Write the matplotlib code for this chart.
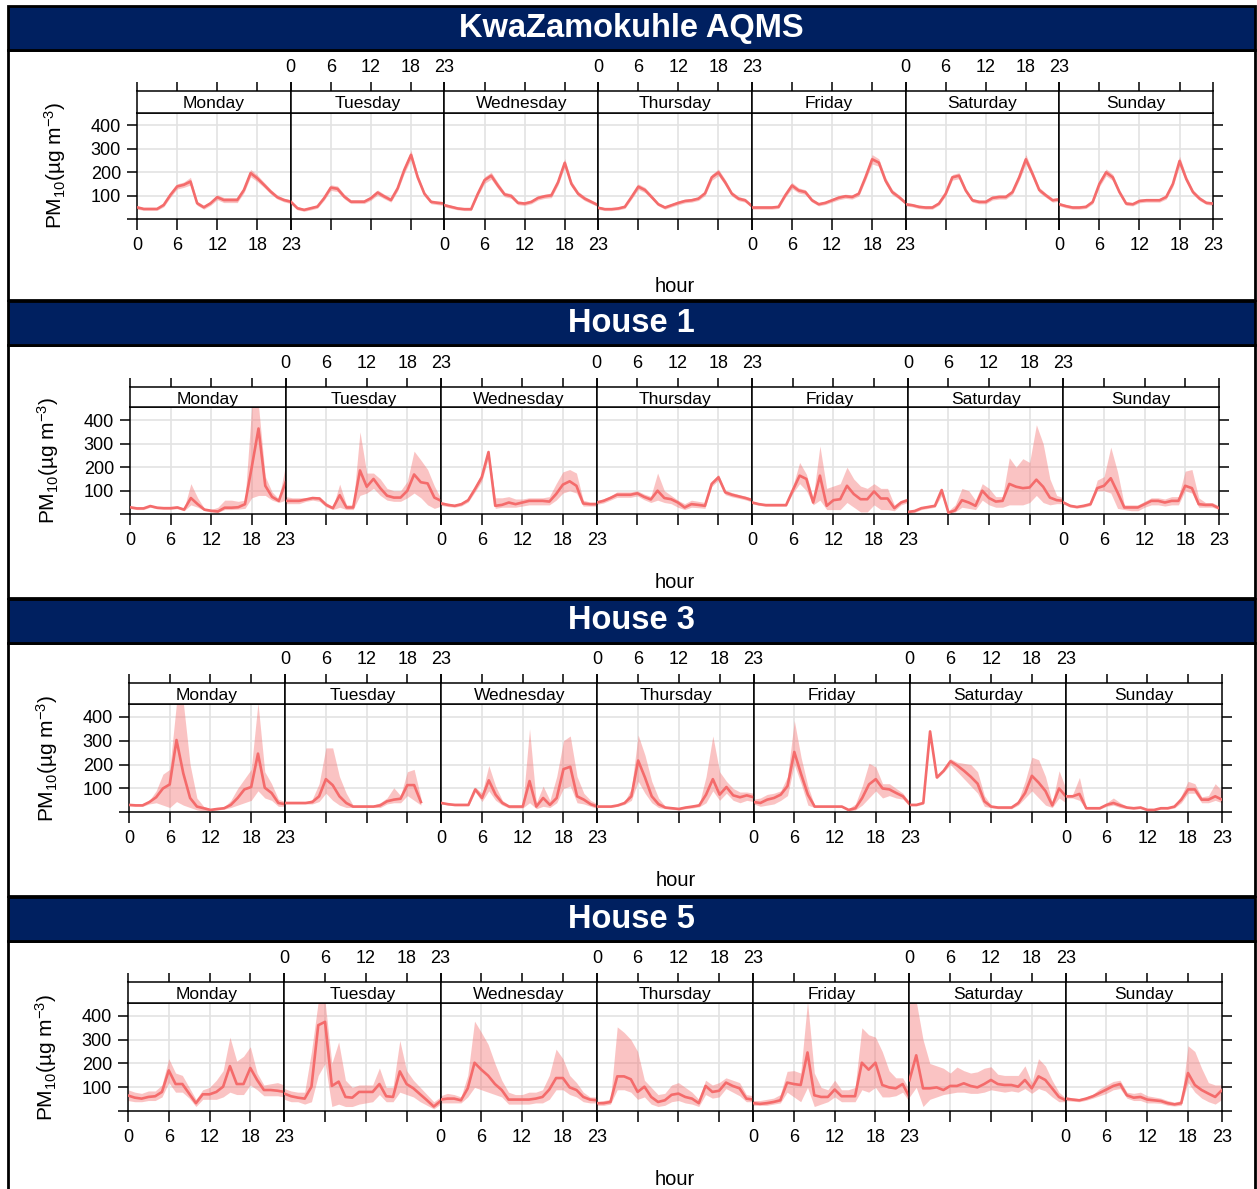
import numpy as np
import matplotlib.pyplot as plt
from matplotlib.patches import Rectangle

plt.rcParams['font.family'] = ['Liberation Sans', 'DejaVu Sans']
plt.rcParams['mathtext.fontset'] = 'custom'
plt.rcParams['mathtext.rm'] = 'Liberation Sans'
plt.rcParams['mathtext.default'] = 'regular'

nan = np.nan
days = ['Monday', 'Tuesday', 'Wednesday', 'Thursday', 'Friday', 'Saturday', 'Sunday']
hours = list(range(24))
titles = ['KwaZamokuhle AQMS', 'House 1', 'House 3', 'House 5']
xtick_vals = [0, 6, 12, 18, 23]
ytick_vals = [0, 100, 200, 300, 400]
ytick_labels = ['', '100', '200', '300', '400']

# hourly means and ribbon bounds, Monday..Sunday (24 values per day)
kz_mean = [
    50, 43, 43, 43, 60, 103, 139, 146, 160, 67, 50, 67, 93, 81, 81, 81, 124, 196, 174, 146, 117, 93, 81, 74,
    74, 46, 39, 46, 53, 89, 134, 129, 96, 74, 74, 74, 89, 113, 96, 81, 131, 210, 274, 178, 108, 73, 69, 66,
    59, 52, 45, 42, 42, 108, 166, 185, 143, 105, 98, 69, 66, 73, 90, 97, 101, 157, 240, 150, 108, 87, 73, 59,
    48, 42, 42, 45, 52, 94, 138, 124, 94, 63, 49, 59, 69, 77, 80, 87, 110, 178, 199, 157, 108, 87, 80, 55,
    49, 49, 49, 49, 52, 101, 143, 122, 115, 80, 63, 69, 80, 91, 97, 94, 108, 178, 255, 241, 164, 115, 94, 69,
    63, 59, 52, 49, 49, 66, 108, 178, 185, 122, 80, 73, 73, 90, 94, 94, 115, 178, 255, 192, 124, 101, 80, 84,
    63, 55, 49, 49, 52, 73, 150, 199, 178, 115, 66, 63, 77, 80, 80, 80, 94, 150, 248, 171, 115, 87, 69, 66,
]
kz_lo = [
    42, 37, 37, 37, 52, 93, 128, 135, 145, 58, 42, 58, 82, 70, 70, 70, 112, 180, 160, 135, 107, 85, 73, 66,
    66, 39, 33, 39, 46, 80, 122, 117, 86, 66, 66, 66, 80, 102, 86, 72, 120, 195, 255, 165, 98, 65, 61, 58,
    52, 45, 39, 36, 36, 98, 152, 170, 130, 95, 88, 61, 58, 65, 81, 88, 91, 145, 222, 138, 98, 78, 65, 52,
    41, 36, 36, 39, 45, 85, 126, 113, 85, 56, 42, 52, 61, 69, 72, 79, 100, 165, 185, 145, 98, 78, 72, 48,
    42, 42, 42, 42, 45, 92, 130, 111, 105, 72, 56, 62, 72, 82, 88, 85, 98, 165, 235, 225, 150, 104, 85, 62,
    56, 52, 45, 42, 42, 59, 98, 166, 172, 112, 72, 65, 65, 81, 85, 85, 105, 165, 235, 178, 113, 92, 72, 76,
    56, 48, 42, 42, 45, 65, 138, 184, 165, 105, 58, 56, 69, 72, 72, 72, 85, 138, 228, 158, 105, 78, 62, 58,
]
kz_hi = [
    56, 49, 49, 49, 68, 113, 150, 158, 178, 76, 58, 76, 103, 92, 92, 92, 136, 212, 188, 157, 127, 101, 89, 82,
    82, 53, 45, 53, 60, 98, 146, 141, 106, 82, 82, 82, 98, 124, 106, 90, 142, 225, 293, 191, 118, 81, 77, 74,
    66, 59, 51, 48, 48, 118, 180, 200, 156, 115, 108, 77, 74, 81, 99, 106, 111, 169, 258, 162, 118, 96, 81, 66,
    55, 48, 48, 51, 59, 103, 150, 135, 103, 70, 56, 66, 77, 85, 88, 95, 120, 191, 213, 169, 118, 96, 88, 62,
    56, 56, 56, 56, 59, 110, 156, 133, 125, 88, 70, 76, 88, 100, 106, 103, 118, 191, 275, 257, 178, 126, 103, 76,
    70, 66, 59, 56, 56, 73, 118, 190, 198, 132, 88, 81, 81, 99, 103, 103, 125, 191, 275, 206, 135, 110, 88, 92,
    70, 62, 56, 56, 59, 81, 162, 214, 191, 125, 74, 70, 85, 88, 88, 88, 103, 162, 268, 184, 125, 96, 76, 74,
]

h1_mean = [
    30, 25, 25, 35, 28, 26, 26, 29, 20, 69, 43, 20, 15, 12, 28, 28, 30, 43, 200, 364, 121, 74, 57, 136,
    57, 57, 57, 63, 69, 67, 40, 26, 81, 29, 29, 186, 117, 150, 111, 79, 71, 71, 100, 169, 136, 131, 71, 57,
    46, 40, 36, 43, 60, 107, 157, 264, 36, 40, 50, 43, 50, 57, 57, 57, 54, 86, 126, 140, 121, 46, 43, 43,
    50, 57, 69, 83, 83, 83, 89, 74, 63, 100, 69, 64, 50, 29, 43, 40, 36, 129, 157, 93, 83, 76, 69, 60,
    50, 43, 39, 39, 39, 39, 103, 164, 150, 50, 164, 36, 60, 64, 121, 86, 64, 64, 97, 67, 67, 26, 50, 60,
    10, 14, 26, 31, 36, 103, 7, 17, 60, 50, 36, 100, 69, 54, 57, 129, 117, 111, 114, 147, 117, 71, 60, 57,
    50, 36, 31, 36, 43, 111, 121, 153, 93, 29, 29, 29, 43, 57, 57, 50, 57, 57, 121, 111, 43, 40, 40, 26,
]
h1_lo = [
    25, 20, 20, 30, 23, 21, 21, 24, 15, 40, 30, 15, 10, 8, 20, 20, 22, 25, 70, 80, 80, 60, 50, 60,
    45, 45, 45, 55, 60, 55, 32, 20, 30, 20, 20, 80, 90, 110, 80, 60, 55, 55, 70, 90, 70, 40, 25, 35,
    38, 33, 30, 36, 52, 95, 140, 240, 25, 30, 30, 30, 35, 40, 40, 40, 40, 60, 90, 100, 90, 35, 35, 35,
    42, 48, 60, 72, 72, 72, 78, 62, 50, 60, 50, 45, 30, 20, 30, 28, 25, 118, 145, 83, 74, 68, 61, 52,
    44, 38, 34, 34, 34, 34, 90, 130, 100, 40, 60, 20, 20, 20, 50, 30, 10, 10, 40, 20, 20, 15, 40, 50,
    5, 8, 20, 25, 30, 80, 2, 10, 30, 25, 20, 60, 40, 30, 30, 40, 40, 40, 50, 80, 50, 40, 45, 45,
    43, 30, 26, 30, 37, 100, 100, 90, 25, 20, 15, 15, 30, 40, 40, 35, 40, 40, 100, 90, 30, 30, 30, 20,
]
h1_hi = [
    35, 30, 30, 40, 33, 31, 31, 36, 25, 130, 70, 25, 20, 30, 60, 60, 55, 60, 460, 460, 160, 95, 65, 210,
    75, 70, 70, 70, 75, 75, 50, 32, 128, 40, 40, 350, 175, 175, 150, 110, 100, 100, 140, 268, 230, 190, 120, 65,
    54, 47, 42, 50, 68, 119, 175, 275, 70, 70, 75, 65, 65, 70, 70, 70, 75, 130, 180, 190, 175, 60, 52, 52,
    58, 66, 78, 95, 95, 95, 100, 86, 76, 175, 100, 80, 60, 45, 60, 55, 50, 140, 169, 103, 92, 84, 77, 68,
    56, 48, 44, 44, 44, 44, 120, 220, 170, 70, 290, 110, 120, 130, 200, 150, 120, 110, 130, 110, 110, 40, 60, 70,
    15, 20, 32, 37, 42, 110, 15, 40, 110, 100, 60, 130, 110, 75, 75, 240, 200, 236, 220, 380, 300, 150, 80, 70,
    57, 42, 36, 42, 50, 145, 160, 285, 180, 40, 40, 40, 55, 70, 70, 65, 75, 75, 183, 190, 70, 50, 50, 35,
]

h3_mean = [
    31, 29, 29, 43, 63, 100, 117, 303, 163, 60, 24, 17, 10, 14, 17, 31, 60, 96, 106, 246, 103, 81, 39, 34,
    39, 39, 39, 39, 43, 67, 139, 114, 67, 39, 24, 24, 24, 24, 29, 46, 53, 57, 114, 114, 43, nan, nan, nan,
    39, 34, 31, 31, 31, 96, 60, 134, 74, 39, 24, 24, 24, 131, 24, 60, 31, 60, 181, 191, 67, 53, 34, 24,
    24, 24, 24, 29, 39, 67, 217, 146, 67, 34, 20, 17, 14, 20, 24, 29, 74, 139, 74, 106, 71, 63, 71, 63,
    43, 39, 53, 60, 74, 110, 253, 160, 74, 24, 24, 24, 24, 24, 10, 17, 60, 117, 139, 100, 96, 81, 67, 34,
    31, 31, 39, 339, 146, 174, 214, 196, 174, 149, 120, 46, 24, 20, 20, 20, 39, 81, 153, 124, 89, 29, 100, 67,
    67, 67, 77, 17, 17, 17, 31, 39, 29, 20, 17, 20, 10, 10, 17, 17, 24, 53, 96, 96, 53, 53, 67, 53,
]
h3_lo = [
    27, 25, 25, 35, 40, 30, 20, 45, 30, 20, 10, 5, 6, 10, 13, 20, 30, 40, 50, 90, 60, 50, 25, 25,
    35, 35, 35, 35, 35, 45, 80, 50, 30, 20, 20, 20, 20, 20, 20, 35, 40, 40, 70, 50, 30, nan, nan, nan,
    35, 30, 27, 27, 27, 85, 45, 90, 50, 30, 18, 18, 18, 40, 15, 25, 20, 40, 100, 110, 40, 35, 25, 15,
    20, 20, 20, 25, 33, 50, 130, 80, 40, 20, 15, 12, 10, 15, 18, 23, 40, 90, 50, 80, 50, 40, 50, 45,
    35, 25, 30, 35, 50, 70, 200, 120, 30, 20, 20, 20, 20, 20, 5, 10, 30, 60, 90, 60, 70, 60, 55, 25,
    27, 27, 34, 330, 140, 168, 200, 170, 140, 110, 80, 25, 19, 15, 15, 15, 30, 60, 90, 60, 30, 20, 60, 40,
    60, 60, 50, 13, 13, 13, 25, 30, 20, 15, 13, 15, 7, 7, 13, 13, 18, 40, 80, 80, 40, 40, 50, 40,
]
h3_hi = [
    36, 34, 34, 50, 90, 160, 180, 460, 460, 200, 60, 25, 15, 18, 22, 50, 100, 140, 180, 460, 170, 120, 55, 45,
    43, 43, 43, 43, 55, 120, 270, 270, 150, 80, 30, 30, 30, 30, 40, 60, 103, 70, 170, 180, 60, nan, nan, nan,
    43, 38, 35, 35, 35, 105, 80, 196, 110, 50, 30, 30, 30, 350, 40, 110, 50, 150, 300, 320, 150, 80, 50, 35,
    28, 28, 28, 33, 45, 100, 324, 240, 130, 60, 25, 22, 18, 25, 30, 35, 150, 320, 170, 130, 100, 85, 85, 80,
    55, 60, 75, 80, 90, 150, 385, 230, 110, 28, 28, 28, 28, 28, 15, 35, 110, 206, 190, 120, 120, 100, 80, 40,
    35, 35, 44, 345, 152, 180, 225, 210, 205, 200, 170, 70, 29, 25, 25, 25, 50, 130, 231, 220, 150, 40, 174, 100,
    75, 75, 146, 21, 21, 21, 40, 60, 40, 25, 21, 25, 14, 14, 21, 21, 30, 70, 130, 120, 65, 70, 120, 90,
]

h5_mean = [
    66, 57, 53, 60, 63, 81, 171, 114, 114, 74, 34, 71, 71, 81, 103, 189, 114, 114, 181, 131, 89, 89, 86, 81,
    74, 63, 57, 53, 103, 360, 374, 106, 124, 60, 57, 81, 81, 81, 114, 63, 60, 167, 114, 96, 71, 46, 20, 43,
    49, 53, 53, 46, 96, 203, 174, 149, 114, 89, 49, 49, 49, 49, 53, 60, 91, 139, 139, 100, 89, 60, 49, 46,
    34, 34, 39, 146, 146, 134, 81, 103, 60, 39, 46, 69, 74, 60, 53, 34, 106, 81, 86, 120, 106, 96, 53, 49,
    34, 31, 34, 39, 46, 120, 114, 110, 246, 67, 60, 60, 91, 63, 63, 63, 203, 174, 203, 110, 100, 96, 114, 60,
    130, 234, 96, 96, 100, 89, 106, 106, 117, 106, 100, 114, 131, 114, 110, 110, 103, 131, 96, 146, 131, 96, 60, 46,
    53, 49, 46, 53, 63, 77, 91, 106, 114, 67, 57, 60, 49, 46, 43, 34, 29, 34, 160, 110, 89, 74, 60, 89,
]
h5_lo = [
    45, 40, 40, 45, 45, 60, 120, 80, 80, 55, 20, 50, 50, 50, 60, 80, 70, 70, 110, 90, 65, 65, 65, 60,
    50, 40, 40, 30, 40, 150, 200, 20, 30, 20, 20, 30, 35, 40, 70, 40, 40, 80, 70, 60, 40, 25, 10, 30,
    35, 35, 35, 35, 60, 100, 90, 80, 70, 60, 30, 30, 30, 30, 35, 35, 50, 90, 90, 70, 60, 40, 35, 35,
    25, 25, 30, 90, 90, 80, 50, 60, 30, 20, 25, 40, 45, 35, 30, 20, 70, 55, 60, 95, 80, 65, 40, 40,
    25, 25, 25, 30, 35, 80, 60, 40, 100, 20, 30, 40, 60, 40, 40, 40, 90, 80, 100, 60, 60, 65, 80, 40,
    60, 100, 20, 50, 60, 70, 75, 80, 80, 75, 75, 80, 90, 85, 80, 85, 80, 95, 75, 95, 85, 60, 40, 40,
    45, 42, 40, 46, 55, 65, 75, 90, 95, 55, 45, 45, 35, 35, 33, 25, 22, 25, 120, 80, 55, 40, 30, 50,
]
h5_hi = [
    90, 80, 75, 85, 85, 110, 220, 160, 150, 100, 50, 90, 100, 130, 170, 310, 210, 230, 270, 160, 110, 115, 120, 110,
    95, 85, 80, 80, 250, 460, 460, 200, 290, 130, 100, 110, 110, 110, 181, 100, 100, 296, 170, 130, 100, 70, 40, 60,
    65, 75, 70, 60, 150, 377, 330, 280, 200, 130, 80, 70, 70, 80, 80, 90, 150, 260, 220, 150, 120, 80, 60, 60,
    40, 45, 50, 353, 330, 300, 250, 130, 100, 70, 75, 110, 120, 100, 80, 50, 130, 110, 120, 140, 130, 120, 70, 65,
    45, 45, 50, 55, 70, 167, 170, 160, 460, 160, 100, 90, 130, 90, 90, 100, 349, 320, 310, 250, 170, 140, 140, 90,
    460, 460, 300, 200, 190, 180, 160, 185, 170, 160, 165, 180, 186, 155, 150, 150, 150, 190, 120, 220, 190, 130, 80, 55,
    61, 56, 53, 60, 71, 95, 110, 125, 130, 80, 75, 80, 65, 60, 55, 45, 38, 45, 274, 250, 180, 120, 110, 110,
]

sites = [(kz_mean, kz_lo, kz_hi), (h1_mean, h1_lo, h1_hi),
         (h3_mean, h3_lo, h3_hi), (h5_mean, h5_lo, h5_hi)]

W, H = 1257, 1189
navy = '#002060'
col = '#f46b6b'

# pixel layout per section: header top, header bottom, body bottom,
# plot left, plot right, strip top, strip bottom, plot bottom
layout = [
    (6, 50, 300, 137, 1213, 90.7, 112.7, 219),
    (301, 345, 598, 130, 1219, 386.7, 407.3, 514.3),
    (599, 643, 896, 129, 1222, 682.7, 704, 812.3),
    (897, 941, 1192, 128, 1222, 981.7, 1002.7, 1111.3),
]

fig = plt.figure(figsize=(W / 100, H / 100), dpi=100)


def frect(x0, y0, x1, y1, **kw):
    r = Rectangle((x0 / W, 1 - y1 / H), (x1 - x0) / W, (y1 - y0) / H,
                  transform=fig.transFigure, **kw)
    fig.add_artist(r)


for s, (ht, hb, bb, xl, xr, st, sb, pb) in enumerate(layout):
    frect(8, hb, 1255, bb, facecolor='white', edgecolor='black', lw=2, zorder=-5)
    frect(8, ht, 1255, hb, facecolor=navy, edgecolor='black', lw=2, zorder=-4)
    fig.text((8 + 1255) / 2 / W, 1 - (ht + hb) / 2 / H, titles[s], color='white',
             fontsize=23.5, fontweight='bold', ha='center', va='center')

    mean, lo, hi = sites[s]
    dw = (xr - xl) / 7
    for d in range(7):
        x0 = xl + d * dw
        ax = fig.add_axes([x0 / W, 1 - pb / H, dw / W, (pb - sb) / H])
        sax = fig.add_axes([x0 / W, 1 - sb / H, dw / W, (sb - st) / H])

        m = mean[d * 24:(d + 1) * 24]
        l = lo[d * 24:(d + 1) * 24]
        u = hi[d * 24:(d + 1) * 24]
        ax.fill_between(hours, l, u, color=col, alpha=0.4, lw=0, zorder=2)
        ax.plot(hours, m, color=col, lw=1.9, zorder=3)

        ax.set_xlim(0, 23)
        ax.set_ylim(0, 454)
        ax.set_xticks(xtick_vals)
        ax.set_yticks(ytick_vals)
        for v in [6, 12, 18]:
            ax.axvline(v, color='#e3e3e3', lw=1.2, zorder=1)
        for v in [100, 200, 300, 400]:
            ax.axhline(v, color='#e3e3e3', lw=1.2, zorder=1)

        ax.tick_params(axis='x', direction='out', length=8, width=1.1, pad=5,
                       labelsize=13, labelbottom=(d % 2 == 0))
        ax.tick_params(axis='y', direction='out', length=7.5, width=1.1, pad=4,
                       labelsize=13, left=(d == 0), labelleft=(d == 0),
                       right=(d == 6), labelright=False)
        if d == 0:
            ax.set_yticklabels(ytick_labels)
        for sp in ax.spines.values():
            sp.set_linewidth(1.1)

        sax.set_xlim(0, 23)
        sax.set_ylim(0, 1)
        sax.set_yticks([])
        sax.set_xticks(xtick_vals)
        sax.tick_params(axis='x', direction='out', length=6.5, width=1.1, pad=4,
                        labelsize=13, bottom=False, labelbottom=False,
                        top=True, labeltop=(d % 2 == 1))
        for sp in sax.spines.values():
            sp.set_linewidth(1.1)
        sax.text(11.5, 0.4, days[d], ha='center', va='center', fontsize=12.5)

    fig.text((xl - 82) / W, 1 - (sb + pb) / 2 / H, 'PM$_{10}$(µg m$^{-3}$)',
             rotation=90, ha='center', va='center', fontsize=15)
    fig.text((xl + xr) / 2 / W, 1 - (pb + 68) / H, 'hour',
             ha='center', va='center', fontsize=14.5)

fig.savefig('out.png', dpi=100)
